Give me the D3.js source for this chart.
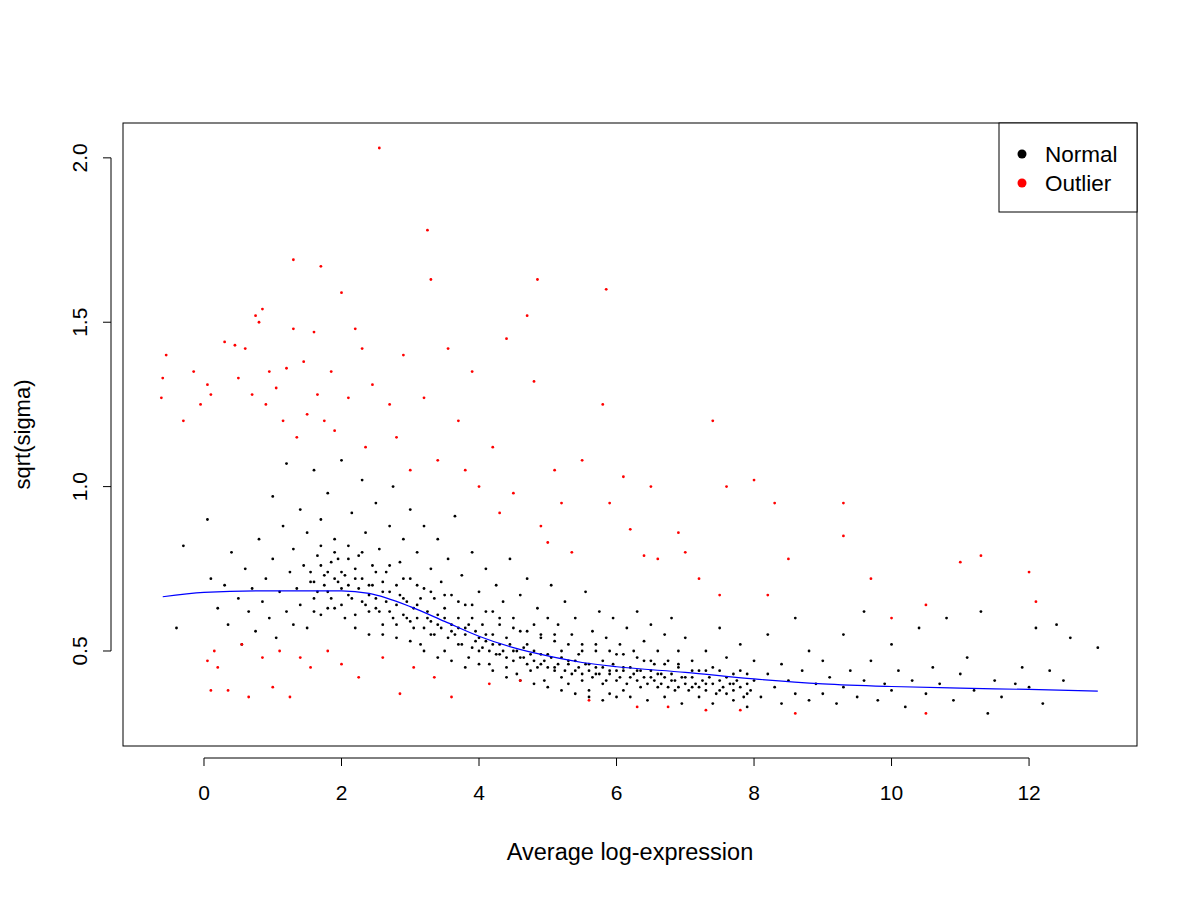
<!DOCTYPE html>
<html>
<head>
<meta charset="utf-8">
<script src="https://cdn.jsdelivr.net/npm/d3@7"></script>
<style>
  body { margin: 0; background: #fff; }
  text { font-family: "Liberation Sans", Arial, sans-serif; }
</style>
</head>
<body>
<svg id="chart" width="1200" height="900"></svg>
<script>
// values (average log-expression, sqrt(sigma))
const xTicks = [0, 2, 4, 6, 8, 10, 12];
const yTicks = [0.5, 1.0, 1.5, 2.0];
const legendLabels = ["Normal", "Outlier"];

const trendX = [-0.6, 0, 1, 2, 2.4, 3, 3.5, 4, 4.5, 5, 5.5, 6, 7, 8, 9, 10, 11, 12, 13];
const trendY = [0.665, 0.678, 0.683, 0.683, 0.675, 0.635, 0.59, 0.545, 0.51, 0.485, 0.465, 0.452, 0.435, 0.415, 0.40, 0.392, 0.387, 0.383, 0.378];

const normalPts = `-0.4,0.57;-0.3,0.82;0.05,0.9;0.1,0.72;0.2,0.63;0.3,0.7;0.35,0.58;0.4,0.8;0.5,0.66;0.55,0.52;0.6,0.75;0.65,0.62;0.7,0.69;0.75,0.56;0.8,0.84;0.85,0.65;0.9,0.72;0.95,0.6;1.0,0.97;1.0,0.78;1.05,0.54;1.1,0.68;1.15,0.88;1.2,0.62;1.2,1.07;1.25,0.74;1.3,0.58;1.3,0.81;1.35,0.69;1.4,0.93;1.4,0.64;1.45,0.76;1.5,0.86;1.5,0.57;1.55,0.71;1.6,1.05;1.6,0.66;1.65,0.79;1.7,0.61;1.7,0.9;1.75,0.73;1.8,0.68;1.8,0.98;1.85,0.77;1.9,0.63;1.9,0.84;1.95,0.71;2.0,1.08;2.0,0.74;2.05,0.6;2.1,0.82;2.1,0.67;2.15,0.92;2.2,0.72;2.2,0.57;2.25,0.79;2.3,1.02;2.3,0.65;2.35,0.86;2.4,0.7;2.4,0.55;2.45,0.76;2.5,0.95;2.5,0.63;2.55,0.81;2.6,0.68;2.6,0.58;2.65,0.74;2.7,0.88;2.7,0.62;2.75,1.0;2.8,0.7;2.8,0.54;2.85,0.77;2.9,0.66;2.9,0.84;2.95,0.6;3.0,0.93;3.0,0.72;3.05,0.57;3.1,0.64;3.1,0.8;3.15,0.52;3.2,0.69;3.2,0.88;3.25,0.6;3.3,0.75;3.3,0.55;3.35,0.66;3.4,0.84;3.4,0.58;3.45,0.71;3.5,0.5;3.5,0.63;3.55,0.78;3.6,0.56;3.6,0.67;3.65,0.91;3.7,0.6;3.7,0.52;3.75,0.73;3.8,0.57;3.8,0.64;3.85,0.48;3.9,0.8;3.9,0.6;3.95,0.53;4.0,0.68;4.0,0.5;4.05,0.58;4.1,0.75;4.1,0.55;4.15,0.46;4.2,0.62;4.2,0.52;4.25,0.7;4.3,0.49;4.3,0.58;4.35,0.65;4.4,0.45;4.4,0.54;4.45,0.78;4.5,0.6;4.5,0.5;4.55,0.43;4.6,0.56;4.6,0.67;4.65,0.48;4.7,0.52;4.7,0.72;4.75,0.44;4.8,0.58;4.8,0.5;4.85,0.63;4.9,0.46;4.9,0.54;4.95,0.41;5.0,0.6;5.0,0.49;5.05,0.7;5.1,0.45;5.1,0.53;5.15,0.58;5.2,0.42;5.2,0.5;5.25,0.65;5.3,0.47;5.3,0.4;5.35,0.55;5.4,0.44;5.4,0.6;5.45,0.49;5.5,0.52;5.5,0.41;5.55,0.68;5.6,0.46;5.6,0.38;5.65,0.56;5.7,0.43;5.7,0.5;5.75,0.62;5.8,0.4;5.8,0.47;5.85,0.54;5.9,0.37;5.9,0.44;5.95,0.6;6.0,0.49;6.0,0.41;6.05,0.52;6.1,0.38;6.1,0.45;6.15,0.57;6.2,0.42;6.2,0.36;6.25,0.5;6.3,0.44;6.3,0.62;6.35,0.39;6.4,0.47;6.4,0.53;6.45,0.35;6.5,0.42;6.5,0.58;6.55,0.46;6.6,0.39;6.6,0.5;6.65,0.43;6.7,0.36;6.7,0.55;6.75,0.47;6.8,0.41;6.8,0.6;6.85,0.38;6.9,0.45;6.9,0.5;6.95,0.34;7.0,0.42;7.0,0.54;7.1,0.39;7.1,0.47;7.2,0.36;7.2,0.44;7.3,0.5;7.3,0.4;7.4,0.34;7.4,0.45;7.5,0.57;7.5,0.38;7.6,0.42;7.6,0.48;7.7,0.35;7.7,0.4;7.8,0.44;7.8,0.52;7.9,0.37;7.9,0.33;8.0,0.41;8.0,0.47;8.1,0.36;8.2,0.43;8.2,0.55;8.3,0.39;8.4,0.34;8.4,0.46;8.5,0.41;8.6,0.37;8.6,0.6;8.7,0.44;8.8,0.35;8.8,0.5;8.9,0.4;9.0,0.37;9.0,0.47;9.1,0.42;9.2,0.34;9.3,0.55;9.3,0.39;9.4,0.44;9.5,0.36;9.6,0.41;9.6,0.62;9.7,0.47;9.8,0.35;9.9,0.4;10.0,0.52;10.0,0.38;10.1,0.44;10.2,0.33;10.3,0.41;10.4,0.57;10.5,0.37;10.6,0.45;10.7,0.4;10.8,0.6;10.9,0.35;11.0,0.43;11.1,0.48;11.2,0.38;11.3,0.62;11.4,0.31;11.5,0.41;11.6,0.36;11.8,0.4;11.9,0.45;12.0,0.39;12.1,0.57;12.2,0.34;12.3,0.44;12.4,0.58;12.5,0.41;12.6,0.54;13.0,0.51`;

// extra points in the densest part of the cloud
const normalDense = `1.55,0.74;1.6,0.71;1.65,0.68;1.7,0.76;1.75,0.7;1.8,0.74;1.85,0.66;1.9,0.72;1.95,0.78;2.0,0.69;2.05,0.73;2.1,0.7;2.15,0.66;2.2,0.75;2.25,0.69;2.3,0.72;2.35,0.64;2.4,0.67;2.45,0.7;2.5,0.66;2.55,0.62;2.6,0.71;2.65,0.65;2.7,0.68;2.75,0.6;2.8,0.64;2.85,0.67;2.9,0.61;2.95,0.65;3.0,0.59;3.05,0.63;3.1,0.6;3.15,0.66;3.2,0.57;3.25,0.62;3.3,0.59;3.35,0.55;3.4,0.61;3.45,0.57;3.5,0.6;3.55,0.54;3.6,0.58;3.65,0.55;3.7,0.57;3.75,0.52;3.8,0.55;3.85,0.58;3.9,0.51;3.95,0.56;4.0,0.54;4.05,0.51;4.1,0.53;4.15,0.5;4.2,0.55;4.25,0.49;4.3,0.52;4.35,0.5;4.4,0.48;4.45,0.52;4.5,0.47;4.55,0.5;4.6,0.48;4.65,0.51;4.7,0.46;4.75,0.49;4.8,0.47;4.85,0.45;4.9,0.49;4.95,0.47;5.0,0.45;5.05,0.48;5.1,0.44;5.15,0.46;5.2,0.48;5.25,0.44;5.3,0.46;5.35,0.43;5.4,0.47;5.45,0.45;5.5,0.43;5.55,0.46;5.6,0.44;5.65,0.42;5.7,0.45;5.75,0.43;5.8,0.45;5.85,0.41;5.9,0.43;5.95,0.46;6.0,0.44;6.05,0.42;6.1,0.44;6.15,0.4;6.2,0.45;6.25,0.43;6.3,0.41;6.35,0.44;6.4,0.42;6.45,0.4;6.5,0.44;6.55,0.41;6.6,0.43;6.65,0.4;6.7,0.42;6.75,0.39;6.8,0.43;6.85,0.41;6.9,0.39;6.95,0.42;7.0,0.4;7.05,0.38;7.1,0.42;7.15,0.4;7.2,0.39;7.25,0.41;7.3,0.38;7.35,0.42;7.4,0.4;7.45,0.37;7.5,0.41;7.55,0.39;7.6,0.37;7.65,0.4;7.7,0.38;7.75,0.41;7.8,0.39;7.85,0.36;7.9,0.4;7.95,0.38;1.6,0.62;1.8,0.63;2.0,0.64;2.2,0.61;2.4,0.62;2.6,0.55;2.8,0.58;3.0,0.53;3.2,0.5;3.4,0.48;3.6,0.47;3.8,0.45;4.0,0.46;4.2,0.44;4.4,0.42;4.6,0.41;4.8,0.4;5.0,0.39;5.2,0.38;5.4,0.37;5.6,0.36;5.8,0.35;6.0,0.36;1.7,0.82;1.9,0.8;2.1,0.78;2.3,0.8;2.5,0.74;2.7,0.76;2.9,0.72;3.1,0.7;3.3,0.68;3.5,0.67;3.7,0.65;3.9,0.64;4.1,0.62;4.3,0.6;4.5,0.57;4.7,0.56;4.9,0.55;5.1,0.55;5.3,0.52;5.5,0.5;5.7,0.52;5.9,0.5;6.1,0.49;6.3,0.48;6.5,0.47;6.7,0.46;6.9,0.46;7.1,0.44;7.3,0.44;7.5,0.44;7.7,0.43;7.9,0.43`;

const outlierPts = `-0.62,1.27;-0.6,1.33;-0.55,1.4;-0.3,1.2;-0.15,1.35;-0.05,1.25;0.05,1.31;0.1,1.28;0.05,0.47;0.1,0.38;0.15,0.5;0.2,0.45;0.3,1.44;0.35,0.38;0.45,1.43;0.5,1.33;0.55,0.52;0.6,1.42;0.65,0.36;0.7,1.28;0.75,1.52;0.8,1.5;0.85,1.54;0.85,0.48;0.9,1.25;0.95,1.35;1.0,0.39;1.05,1.3;1.1,0.5;1.15,1.2;1.2,1.36;1.25,0.36;1.3,1.69;1.3,1.48;1.35,1.15;1.4,0.48;1.45,1.38;1.5,1.22;1.55,0.45;1.6,1.47;1.65,1.28;1.7,1.67;1.75,1.2;1.8,0.5;1.85,1.35;1.9,1.17;2.0,1.59;2.0,0.46;2.1,1.27;2.2,1.48;2.25,0.42;2.3,1.42;2.35,1.12;2.45,1.31;2.55,2.03;2.6,0.48;2.7,1.25;2.8,1.15;2.85,0.37;2.9,1.4;3.0,1.05;3.05,0.45;3.2,1.27;3.25,1.78;3.3,1.63;3.35,0.42;3.4,1.08;3.55,1.42;3.6,0.36;3.7,1.2;3.8,1.05;3.9,1.35;4.0,1.0;4.15,0.4;4.2,1.12;4.3,0.92;4.4,1.45;4.5,0.98;4.6,0.41;4.7,1.52;4.8,1.32;4.85,1.63;4.9,0.88;5.0,0.83;5.1,1.05;5.2,0.95;5.35,0.8;5.5,1.08;5.6,0.35;5.8,1.25;5.85,1.6;5.9,0.95;6.1,1.03;6.2,0.87;6.3,0.33;6.4,0.79;6.5,1.0;6.6,0.78;6.75,0.33;6.9,0.86;7.0,0.8;7.2,0.72;7.3,0.32;7.4,1.2;7.5,0.67;7.6,1.0;7.8,0.32;8.0,1.02;8.2,0.67;8.3,0.95;8.5,0.78;8.6,0.31;9.3,0.95;9.3,0.85;9.7,0.72;10.0,0.6;10.5,0.64;10.5,0.31;11.0,0.77;11.3,0.79;12.0,0.74;12.1,0.65`;

const parsePts = s => s.split(";").map(p => p.split(",").map(Number));
const normal = parsePts(normalPts).concat(parsePts(normalDense));
const outlier = parsePts(outlierPts);

const pL = 123, pR = 1137, pT = 123, pB = 746;

const x = d3.scaleLinear().domain([-1.178, 13.57]).range([pL, pR]);
const y = d3.scaleLinear().domain([0.211, 2.106]).range([pB, pT]);

const svg = d3.select("#chart");

svg.append("rect")
    .attr("x", pL).attr("y", pT)
    .attr("width", pR - pL).attr("height", pB - pT)
    .attr("fill", "none").attr("stroke", "#000").attr("stroke-width", 1);

// x axis (R style, detached below box)
const xAxis = svg.append("g").attr("transform", `translate(0, ${pB + 12})`);
xAxis.append("line")
    .attr("x1", x(0)).attr("x2", x(12)).attr("stroke", "#000");
xAxis.selectAll(".t").data(xTicks).join("g")
    .attr("transform", d => `translate(${x(d)},0)`)
    .call(g => g.append("line").attr("y2", 8).attr("stroke", "#000"))
    .call(g => g.append("text").attr("y", 42).attr("text-anchor", "middle")
        .attr("font-size", 21).text(d => d));

const yAxis = svg.append("g").attr("transform", `translate(${pL - 12}, 0)`);
yAxis.append("line")
    .attr("y1", y(0.5)).attr("y2", y(2.0)).attr("stroke", "#000");
yAxis.selectAll(".t").data(yTicks).join("g")
    .attr("transform", d => `translate(0,${y(d)})`)
    .call(g => g.append("line").attr("x2", -8).attr("stroke", "#000"))
    .call(g => g.append("text").attr("transform", "translate(-24,0) rotate(-90)")
        .attr("text-anchor", "middle").attr("font-size", 21).text(d => d.toFixed(1)));

svg.append("text").attr("x", (pL + pR) / 2).attr("y", 860)
    .attr("text-anchor", "middle").attr("font-size", 23.5).text("Average log-expression");
svg.append("text").attr("transform", `translate(30, ${(pT + pB) / 2}) rotate(-90)`)
    .attr("text-anchor", "middle").attr("font-size", 22).text("sqrt(sigma)");

svg.append("g").selectAll("circle").data(normal).join("circle")
    .attr("cx", d => x(d[0])).attr("cy", d => y(d[1])).attr("r", 1.4).attr("fill", "#000");
svg.append("g").selectAll("circle").data(outlier).join("circle")
    .attr("cx", d => x(d[0])).attr("cy", d => y(d[1])).attr("r", 1.4).attr("fill", "#f00");

const line = d3.line().x(d => x(d[0])).y(d => y(d[1])).curve(d3.curveMonotoneX);
svg.append("path").attr("d", line(trendX.map((v, i) => [v, trendY[i]])))
    .attr("fill", "none").attr("stroke", "#00f").attr("stroke-width", 1.2);

// legend
const lg = svg.append("g");
lg.append("rect").attr("x", 999).attr("y", pT).attr("width", pR - 999).attr("height", 89)
    .attr("fill", "#fff").attr("stroke", "#000");
lg.selectAll(".row").data(legendLabels).join("g")
    .attr("transform", (d, i) => `translate(1022, ${154 + i * 29})`)
    .call(g => g.append("circle").attr("r", 4.5).attr("fill", (d, i) => i ? "#f00" : "#000"))
    .call(g => g.append("text").attr("x", 23).attr("dy", "0.35em").attr("font-size", 22.5).text(d => d));
</script>
</body>
</html>
